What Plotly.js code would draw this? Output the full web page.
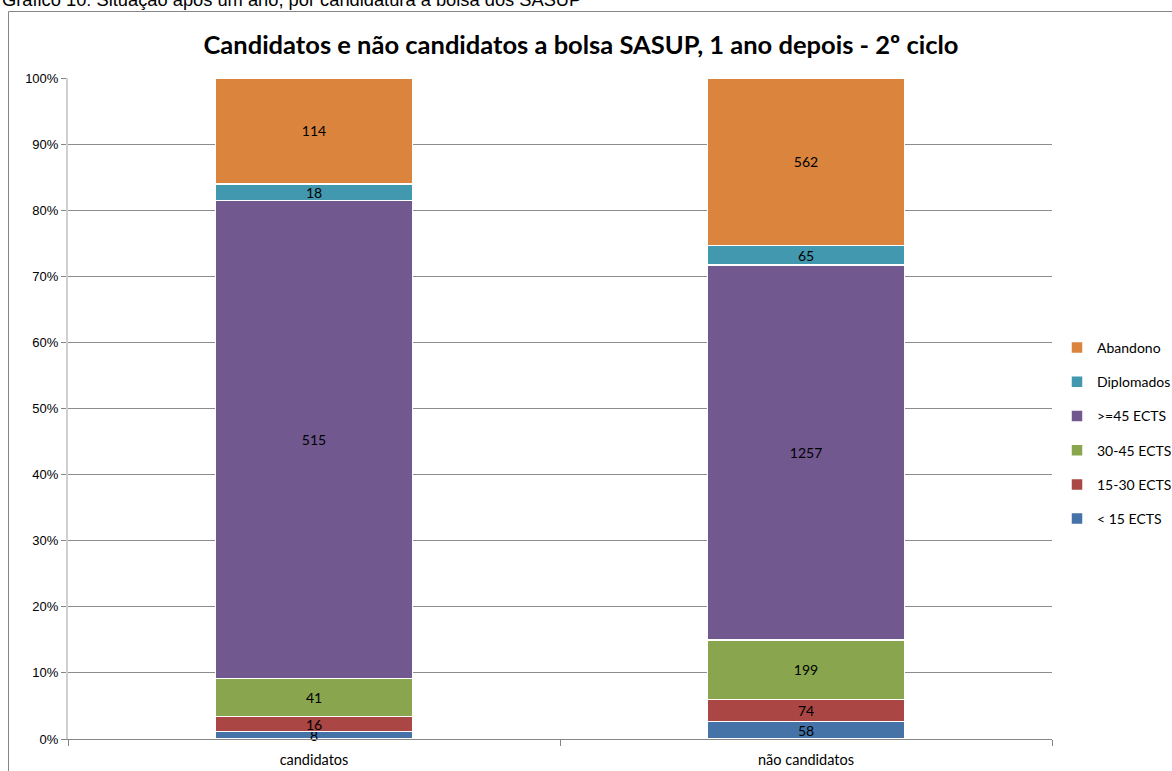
<!DOCTYPE html>
<html>
<head>
<meta charset="utf-8">
<script src="https://cdn.plot.ly/plotly-3.0.1.min.js"></script>
<style>html,body{margin:0;padding:0;background:#fff;overflow:hidden}</style>
</head>
<body>
<div id="chart" style="width:1172px;height:771px"></div>
<script>
const categories = ["candidatos", "não candidatos"];
const seriesNames = ["< 15 ECTS", "15-30 ECTS", "30-45 ECTS", ">=45 ECTS", "Diplomados", "Abandono"];
const lt15 = [8, 58];
const e15_30 = [16, 74];
const e30_45 = [41, 199];
const ge45 = [515, 1257];
const diplomados = [18, 65];
const abandono = [114, 562];
const seriesValues = [lt15, e15_30, e30_45, ge45, diplomados, abandono];
const colors = ["#4572A7", "#AA4643", "#89A54E", "#71588F", "#4198AF", "#DB843D"];

const L = 68, R = 1052, T = 78, B = 739, W = 1172, H = 771;
const px = p => (p - L) / (R - L);
const py = p => (B - p) / (B - T);

const traces = seriesValues.map((vals, i) => ({
  type: "bar",
  name: seriesNames[i],
  x: categories,
  y: vals,
  text: vals.map(String),
  textposition: "inside",
  insidetextanchor: "middle",
  textangle: 0,
  constraintext: "none",
  cliponaxis: false,
  textfont: {family: "Lato, 'Open Sans', sans-serif", size: 14, color: "#000"},
  marker: {color: colors[i], line: {color: "#ffffff", width: 1.5}},
  legendgroup: "g" + i,
  legendrank: 100 - i,
  hoverinfo: "name+y"
}));

const layout = {
  width: W, height: H,
  margin: {l: L, r: W - R, t: T, b: H - B, pad: 0, autoexpand: false},
  paper_bgcolor: "#fff", plot_bgcolor: "#fff",
  barmode: "stack", barnorm: "percent", bargap: 0.6,
  showlegend: true,
  legend: {
    x: px(1057), y: py(332), xanchor: "left", yanchor: "top",
    traceorder: "grouped", tracegroupgap: 13,
    font: {family: "Lato, 'Open Sans', sans-serif", size: 14, color: "#000"},
    itemwidth: 30, bgcolor: "rgba(0,0,0,0)"
  },
  title: {
    text: "Candidatos e não candidatos a bolsa SASUP, 1 ano depois - 2º ciclo",
    font: {family: "Lato, 'Open Sans', sans-serif", size: 25.5, color: "#000", weight: "bold"},
    xref: "container", x: 581 / W, xanchor: "center",
    yref: "container", y: 1 - 45 / H, yanchor: "middle"
  },
  xaxis: {
    type: "category", tickson: "boundaries", ticks: "outside", ticklen: 6,
    tickcolor: "#868686", showline: true, linecolor: "#868686", linewidth: 1,
    showgrid: false, ticklabelstandoff: 8,
    tickfont: {family: "Lato, 'Open Sans', sans-serif", size: 14.5, color: "#000"}
  },
  yaxis: {
    range: [0, 100], tick0: 0, dtick: 10, ticksuffix: "%",
    ticks: "outside", ticklen: 5, tickcolor: "#868686",
    showline: true, linecolor: "#d0d0d0", linewidth: 2,
    showgrid: true, gridcolor: "#8c8c8c", gridwidth: 1, zeroline: false,
    tickfont: {family: "'Liberation Sans', Arial, sans-serif", size: 13, color: "#000"},
    fixedrange: true
  },
  shapes: [{
    type: "rect", xref: "paper", yref: "paper",
    x0: px(8.5), x1: px(1180), y0: py(780), y1: py(11.5),
    line: {color: "#868686", width: 1}, fillcolor: "rgba(0,0,0,0)", layer: "below"
  }],
  annotations: [{
    text: "Gráfico 10: Situação após um ano, por candidatura à bolsa dos SASUP",
    xref: "paper", yref: "paper", x: px(0), y: py(12), xanchor: "left", yanchor: "bottom",
    showarrow: false,
    font: {family: "'Liberation Sans', Arial, sans-serif", size: 18.3, color: "#000"}
  }]
};

Plotly.newPlot("chart", traces, layout, {displayModeBar: false, staticPlot: true});
</script>
</body>
</html>
